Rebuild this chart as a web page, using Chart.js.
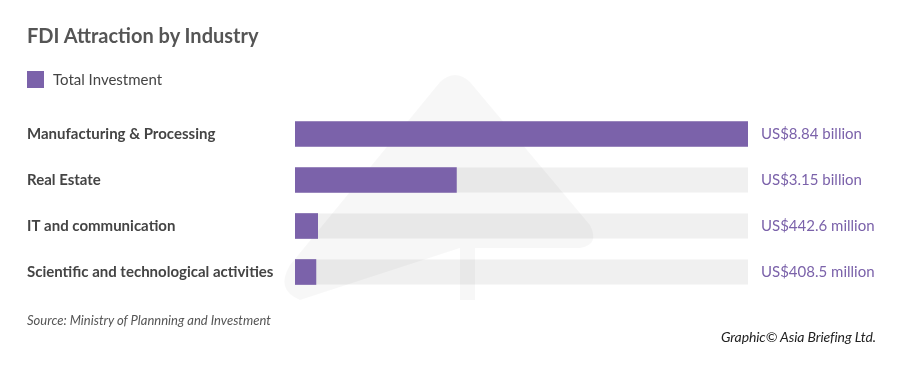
<!DOCTYPE html>
<html>
<head>
<meta charset="utf-8">
<script src="https://cdn.jsdelivr.net/npm/chart.js@4"></script>
<style>
  body { margin: 0; background: #fff; font-family: Lato, "Open Sans", sans-serif; }
  #wrap { position: relative; width: 900px; height: 367px; overflow: hidden; }
  #title { position: absolute; left: 27px; top: 23px; font-size: 20px; font-weight: bold; color: #555; }
  #legend { position: absolute; left: 27px; top: 70px; font-size: 15px; color: #444; display: flex; align-items: center; }
  #legend span.box { display: inline-block; width: 17px; height: 17px; background: #7b62aa; margin-right: 9px; }
  #source { position: absolute; left: 27px; top: 312px; font-size: 13px; font-style: italic; color: #555; }
  #credit { position: absolute; right: 24px; top: 328px; font-size: 14px; font-style: italic; color: #222; letter-spacing: -0.1px; }
  canvas { position: absolute; left: 0; top: 0; }
</style>
</head>
<body>
<div id="wrap">
  <canvas id="fdiChart" width="900" height="367"></canvas>
  <div id="title">FDI Attraction by Industry</div>
  <div id="legend"><span class="box"></span>Total Investment</div>
  <div id="source">Source: Ministry of Plannning and Investment</div>
  <div id="credit">Graphic© Asia Briefing Ltd.</div>
</div>
<script>
// datos (miles de millones USD)
const industries = ['Manufacturing & Processing', 'Real Estate', 'IT and communication', 'Scientific and technological activities'];
const investment = [8.84, 3.15, 0.4426, 0.4085];
const valueLabels = ['US$8.84 billion', 'US$3.15 billion', 'US$442.6 million', 'US$408.5 million'];
const axisMax = 8.84;

const purple = '#7b62aa';

// barras grises de fondo + marca de agua
const trackPlugin = {
    id: 'tracks',
    beforeDatasetsDraw(chart) {
        const ctx = chart.ctx;
        const x = chart.scales.x;
        const meta = chart.getDatasetMeta(0);
        ctx.save();
        ctx.fillStyle = '#f0f0f0';
        meta.data.forEach(function (bar) {
            const h = bar.height;
            ctx.fillRect(x.getPixelForValue(0), bar.y - h / 2, x.getPixelForValue(axisMax) - x.getPixelForValue(0), h);
        });
        // marca de agua tenue
        ctx.fillStyle = 'rgba(0,0,0,0.03)';
        ctx.beginPath();
        ctx.moveTo(440, 82);
        ctx.quadraticCurveTo(455, 68, 470, 82);
        ctx.lineTo(590, 225);
        ctx.quadraticCurveTo(600, 245, 580, 248);
        ctx.lineTo(475, 248);
        ctx.lineTo(475, 300);
        ctx.lineTo(460, 300);
        ctx.lineTo(460, 248);
        ctx.lineTo(300, 300);
        ctx.quadraticCurveTo(275, 290, 290, 265);
        ctx.closePath();
        ctx.fill();
        ctx.restore();
    },
    afterDatasetsDraw(chart) {
        const ctx = chart.ctx;
        const x = chart.scales.x;
        const meta = chart.getDatasetMeta(0);
        ctx.save();
        ctx.fillStyle = purple;
        ctx.font = '15px Lato, "Open Sans", sans-serif';
        ctx.textBaseline = 'middle';
        meta.data.forEach(function (bar, i) {
            ctx.fillText(valueLabels[i], x.getPixelForValue(axisMax) + 13, bar.y);
        });
        ctx.restore();
    }
};

new Chart(document.getElementById('fdiChart'), {
    type: 'bar',
    data: {
        labels: industries,
        datasets: [{
            label: 'Total Investment',
            data: investment,
            backgroundColor: purple,
            barThickness: 25,
            borderWidth: 0
        }]
    },
    options: {
        indexAxis: 'y',
        responsive: false,
        animation: false,
        layout: {
            padding: { top: 111, bottom: 72, left: 27, right: 152 }
        },
        scales: {
            x: {
                min: 0,
                max: axisMax,
                display: false
            },
            y: {
                grid: { display: false, drawTicks: false },
                border: { display: false },
                afterFit: function (scale) { scale.width = 268; },
                ticks: {
                    crossAlign: 'far',
                    color: '#444',
                    padding: 0,
                    font: { family: 'Lato, "Open Sans", sans-serif', size: 15, weight: 'bold' }
                }
            }
        },
        plugins: {
            legend: { display: false },
            tooltip: { enabled: false }
        }
    },
    plugins: [trackPlugin]
});
</script>
</body>
</html>
